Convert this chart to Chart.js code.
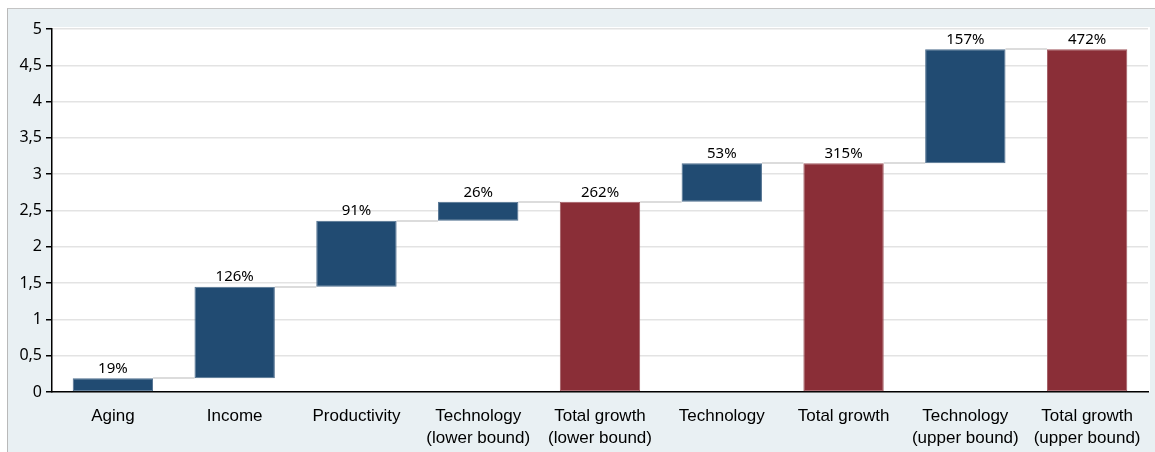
<!DOCTYPE html>
<html lang="en">
  <head>
    <meta charset="UTF-8" />
    <title>Growth decomposition</title>
    <style>
      html, body { margin: 0; padding: 0; background: #ffffff; }
      #frame {
        position: absolute;
        left: 7px;
        top: 8px;
        width: 1147px;
        height: 443px;
        background: #e9f0f3;
        border-left: 1px solid #b9b9b9;
        border-top: 1px solid #c4c4c4;
      }
      #wrap { position: relative; width: 1147px; height: 443px; }
    </style>
  </head>
  <body>
    <script src="https://cdn.jsdelivr.net/npm/chart.js"></script>
    <div id="frame"><div id="wrap"><canvas id="myChart"></canvas></div></div>
    <script>
      const categories = [
        "Aging",
        "Income",
        "Productivity",
        ["Technology", "(lower bound)"],
        ["Total growth", "(lower bound)"],
        "Technology",
        "Total growth",
        ["Technology", "(upper bound)"],
        ["Total growth", "(upper bound)"],
      ];
      // step contributions; null marks a running total bar
      const steps = [0.19, 1.26, 0.91, 0.26, null, 0.53, null, 1.57, null];
      const yTicks = [0, 0.5, 1, 1.5, 2, 2.5, 3, 3.5, 4, 4.5, 5];

      const stepColor = "#214b72";
      const totalColor = "#8a2e37";

      // floating bars: [start, end]
      let running = 0;
      const ranges = steps.map((s) => {
        if (s === null) return [0, running];
        const r = [running, +(running + s).toFixed(2)];
        running = r[1];
        return r;
      });
      const labels = ranges.map((r, i) =>
        Math.round((steps[i] === null ? r[1] : steps[i]) * 100) + "%"
      );

      const plotBackground = {
        id: "plotBackground",
        beforeDraw(chart) {
          const { ctx, chartArea: a } = chart;
          ctx.save();
          ctx.fillStyle = "#ffffff";
          ctx.fillRect(a.left, a.top - 2, a.right - a.left + 2, a.bottom - a.top + 2);
          ctx.restore();
        },
      };

      const connectors = {
        id: "connectors",
        beforeDatasetsDraw(chart) {
          const { ctx } = chart;
          const bars = chart.getDatasetMeta(0).data;
          const y = chart.scales.y;
          ctx.save();
          ctx.strokeStyle = "#dcdcdc";
          ctx.lineWidth = 2;
          for (let i = 0; i < bars.length - 1; i++) {
            const level = ranges[i][1];
            const py = Math.round(y.getPixelForValue(level));
            const x0 = bars[i].x + bars[i].width / 2;
            const x1 = bars[i + 1].x - bars[i + 1].width / 2;
            ctx.beginPath();
            ctx.moveTo(x0, py);
            ctx.lineTo(x1, py);
            ctx.stroke();
          }
          ctx.restore();
        },
      };

      const valueLabels = {
        id: "valueLabels",
        afterDatasetsDraw(chart) {
          const { ctx } = chart;
          const bars = chart.getDatasetMeta(0).data;
          ctx.save();
          ctx.font = '15px "Noto Sans"';
          ctx.fillStyle = "#000000";
          ctx.textAlign = "center";
          ctx.textBaseline = "bottom";
          bars.forEach((b, i) => {
            ctx.fillText(labels[i], b.x, Math.min(b.y, b.base) - 2);
          });
          ctx.restore();
        },
      };

      new Chart("myChart", {
        type: "bar",
        data: {
          labels: categories,
          datasets: [
            {
              data: ranges,
              backgroundColor: steps.map((s) => (s === null ? totalColor : stepColor)),
              borderColor: steps.map((s) => (s === null ? "#a15a61" : "#4f6f8f")),
              borderWidth: 1,
              borderSkipped: false,
              barPercentage: 0.66,
              categoryPercentage: 1,
            },
          ],
        },
        plugins: [plotBackground, connectors, valueLabels],
        options: {
          responsive: true,
          maintainAspectRatio: false,
          animation: false,
          layout: { padding: { top: 20, right: 7, bottom: 0, left: 0 } },
          plugins: {
            legend: { display: false },
            tooltip: { enabled: false },
          },
          scales: {
            x: {
              grid: { display: false },
              border: { display: true, color: "#000000", width: 1.5 },
              ticks: {
                color: "#000000",
                font: { family: '"Liberation Sans", Arial, sans-serif', size: 17, lineHeight: 1.3 },
                padding: 5,
                maxRotation: 0,
                autoSkip: false,
              },
              afterFit(scale) {
                scale.height = 60;
              },
            },
            y: {
              min: 0,
              max: 5,
              afterBuildTicks(scale) {
                scale.ticks = yTicks.map((v) => ({ value: v }));
              },
              grid: {
                color: "#e3e3e3",
                lineWidth: 1.5,
                tickColor: "#000000",
                tickLength: 6,
              },
              border: { display: true, color: "#000000", width: 1.5 },
              ticks: {
                color: "#000000",
                font: { family: '"Noto Sans", sans-serif', size: 16 },
                padding: 4,
                callback: (v) => String(v).replace(".", ","),
              },
              afterFit(scale) {
                scale.width = 44;
              },
            },
          },
        },
      });
    </script>
  </body>
</html>
